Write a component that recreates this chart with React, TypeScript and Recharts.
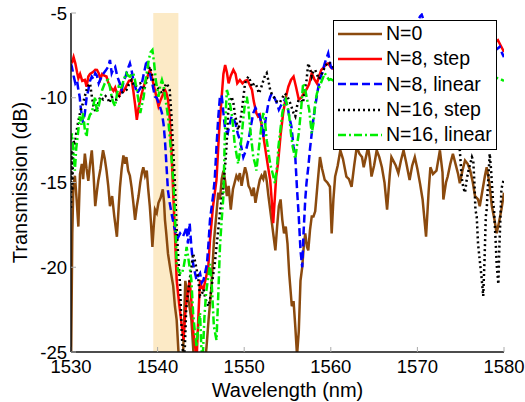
import React from 'react';
import { ComposedChart, Line, Area, XAxis, YAxis, Legend } from 'recharts';

// ---- data: [wavelength (nm), transmission (dB)] ----
const n0: number[][] = [
  [1530.0,-26],[1530.15,-18],[1530.27,-15.3],[1530.45,-14.6],[1530.65,-16.0],[1530.85,-17.6],[1531.04,-14.5],[1531.25,-13.9],[1531.4,-14.8],[1531.6,-13.3],[1531.8,-14.2],[1532.0,-14.9],[1532.2,-13.9],[1532.4,-13.1],[1532.6,-14.5],[1532.8,-16.4],[1533.0,-15.5],[1533.15,-14.9],[1533.4,-14.2],[1533.7,-13.1],[1533.9,-13.6],[1534.1,-14.3],[1534.3,-15.2],[1534.5,-16.4],[1534.75,-15.8],[1535.0,-17.0],[1535.3,-18.2],[1535.5,-16.5],[1535.65,-15.3],[1535.85,-14.2],[1536.05,-13.4],[1536.25,-13.9],[1536.4,-13.5],[1536.6,-14.3],[1536.8,-14.6],[1537.0,-15.3],[1537.2,-16.2],[1537.4,-17.2],[1537.6,-16.4],[1537.8,-15.8],[1538.0,-15.0],[1538.2,-14.4],[1538.35,-14.1],[1538.55,-14.6],[1538.75,-14.3],[1538.9,-15.3],[1539.1,-16.4],[1539.25,-17.5],[1539.4,-18.8],[1539.55,-17.6],[1539.7,-16.6],[1539.9,-16.8],[1540.1,-16.2],[1540.35,-15.9],[1540.6,-15.4],[1540.75,-16.2],[1540.85,-17.2],[1541.0,-18.0],[1541.2,-19.2],[1541.5,-20.2],[1541.8,-21.1],[1542.0,-22.3],[1542.2,-23.1],[1542.4,-24.9],[1542.6,-26],[1542.9,-26],[1543.1,-22.5],[1543.2,-20.8],[1543.45,-21.7],[1543.65,-22.2],[1543.9,-23.1],[1544.2,-25.5],[1544.5,-26],[1545.0,-26],[1545.4,-26],[1545.65,-24.7],[1545.9,-23.0],[1546.2,-21.3],[1546.5,-18.5],[1546.8,-16.8],[1547.0,-15.6],[1547.2,-16.0],[1547.4,-14.8],[1547.6,-14.3],[1547.8,-14.9],[1548.0,-15.8],[1548.2,-15.2],[1548.45,-16.6],[1548.7,-15.4],[1548.9,-15.0],[1549.1,-14.6],[1549.3,-14.8],[1549.5,-14.45],[1549.7,-15.2],[1549.9,-14.6],[1550.1,-14.1],[1550.3,-14.5],[1550.5,-15.2],[1550.7,-15.4],[1550.9,-15.8],[1551.1,-15.3],[1551.3,-16.2],[1551.5,-15.6],[1551.8,-14.85],[1552.0,-14.6],[1552.2,-14.8],[1552.4,-14.3],[1552.6,-14.9],[1552.8,-15.8],[1553.0,-16.6],[1553.2,-17.4],[1553.4,-18.2],[1553.6,-19.0],[1553.8,-17.6],[1554.0,-16.4],[1554.2,-16.0],[1554.4,-17.2],[1554.6,-18.0],[1554.8,-17.6],[1555.0,-18.6],[1555.2,-20.4],[1555.5,-22.3],[1555.7,-22.0],[1555.9,-23.5],[1556.1,-25.2],[1556.3,-23.8],[1556.5,-20.8],[1556.7,-20.0],[1556.9,-18.6],[1557.05,-18.0],[1557.25,-18.8],[1557.4,-19.0],[1557.6,-17.8],[1557.8,-17.0],[1558.0,-17.0],[1558.2,-16.7],[1558.45,-15.2],[1558.75,-13.5],[1559.0,-14.2],[1559.3,-14.85],[1559.6,-15.0],[1559.9,-15.25],[1560.1,-18.0],[1560.3,-16.0],[1560.5,-14.65],[1560.8,-14.0],[1561.1,-13.1],[1561.4,-13.6],[1561.8,-14.65],[1562.1,-14.8],[1562.4,-15.25],[1562.7,-14.0],[1563.0,-12.9],[1563.3,-13.3],[1563.6,-13.5],[1563.8,-14.1],[1564.1,-13.4],[1564.3,-12.9],[1564.5,-13.6],[1564.7,-14.65],[1565.0,-14.0],[1565.3,-13.1],[1565.6,-13.5],[1565.9,-14.1],[1566.2,-15.0],[1566.5,-16.6],[1566.8,-14.6],[1567.0,-13.5],[1567.3,-13.8],[1567.5,-14.0],[1567.8,-14.45],[1568.1,-13.7],[1568.4,-13.1],[1568.7,-13.8],[1569.1,-14.85],[1569.4,-14.0],[1569.7,-13.5],[1570.0,-14.2],[1570.3,-15.05],[1570.6,-16.0],[1571.0,-18.2],[1571.3,-15.5],[1571.5,-14.1],[1571.8,-14.5],[1572.2,-14.3],[1572.6,-13.1],[1572.9,-14.4],[1573.0,-16.0],[1573.3,-15.0],[1573.5,-14.65],[1573.8,-13.9],[1574.1,-13.3],[1574.4,-13.9],[1574.7,-14.5],[1574.9,-15.05],[1575.2,-14.3],[1575.5,-13.7],[1575.8,-13.9],[1576.1,-14.3],[1576.4,-15.0],[1576.65,-15.8],[1577.0,-16.0],[1577.2,-16.4],[1577.5,-15.5],[1577.8,-14.6],[1578.0,-14.1],[1578.3,-15.0],[1578.6,-16.4],[1578.9,-17.2],[1579.15,-18.0],[1579.4,-17.4],[1579.7,-16.6],[1580.0,-15.6]
];

const n8Step: number[][] = [
  [1530.0,-7.8],[1530.15,-7.87],[1530.3,-7.6],[1530.5,-7.97],[1530.7,-8.5],[1530.85,-8.85],[1531.05,-8.6],[1531.3,-9.0],[1531.6,-8.95],[1531.8,-9.35],[1532.0,-8.75],[1532.2,-8.6],[1532.5,-8.5],[1532.8,-8.35],[1533.0,-8.36],[1533.2,-8.55],[1533.4,-8.9],[1533.6,-8.6],[1533.85,-8.7],[1534.1,-8.75],[1534.3,-9.1],[1534.6,-9.4],[1534.9,-9.6],[1535.1,-9.4],[1535.3,-9.74],[1535.55,-9.9],[1535.8,-9.54],[1536.1,-9.6],[1536.4,-9.3],[1536.7,-9.0],[1537.0,-8.95],[1537.2,-9.6],[1537.4,-10.4],[1537.6,-11.3],[1537.8,-10.6],[1538.0,-10.1],[1538.25,-9.6],[1538.5,-9.15],[1538.8,-8.8],[1539.1,-8.36],[1539.3,-8.7],[1539.5,-9.15],[1539.8,-9.8],[1540.1,-10.5],[1540.3,-10.2],[1540.5,-9.95],[1540.85,-9.54],[1541.0,-9.7],[1541.2,-10.1],[1541.4,-11.2],[1541.6,-13.1],[1541.8,-15.6],[1542.0,-18.0],[1542.2,-20.75],[1542.5,-22.2],[1542.8,-23.5],[1543.0,-24.3],[1543.15,-23.0],[1543.35,-21.9],[1543.7,-20.75],[1543.9,-22.0],[1544.1,-23.7],[1544.3,-24.5],[1544.5,-25.5],[1544.7,-23.0],[1544.9,-20.75],[1545.1,-21.2],[1545.3,-21.3],[1545.5,-20.8],[1545.85,-20.0],[1546.05,-18.4],[1546.4,-16.4],[1546.8,-14.85],[1547.1,-12.0],[1547.4,-9.94],[1547.6,-8.6],[1547.8,-8.07],[1548.0,-8.5],[1548.2,-9.15],[1548.45,-8.7],[1548.75,-8.36],[1549.0,-8.6],[1549.2,-9.15],[1549.5,-8.95],[1549.8,-9.15],[1550.1,-9.0],[1550.35,-8.95],[1550.6,-9.2],[1550.9,-9.54],[1551.1,-10.2],[1551.4,-10.9],[1551.6,-11.1],[1551.8,-11.0],[1552.1,-11.9],[1552.4,-12.9],[1552.7,-13.9],[1553.0,-14.85],[1553.2,-16.2],[1553.35,-17.4],[1553.5,-16.2],[1553.7,-14.6],[1553.9,-13.9],[1554.2,-12.2],[1554.5,-10.9],[1554.8,-10.0],[1555.1,-9.35],[1555.4,-8.95],[1555.7,-8.75],[1556.0,-9.4],[1556.3,-10.1],[1556.6,-10.0],[1556.9,-9.7],[1557.2,-9.5],[1557.5,-9.2],[1557.8,-8.55],[1558.1,-8.9],[1558.4,-9.15],[1558.6,-8.8],[1558.9,-8.36],[1559.2,-8.2],[1559.5,-8.0],[1559.7,-7.97],[1560.0,-8.2],[1561.0,-8.5],[1562.0,-8.0],[1563.0,-8.8],[1564.0,-8.3],[1565.0,-7.8],[1566.0,-8.4],[1567.0,-8.0],[1568.0,-7.6],[1569.0,-8.2],[1570.0,-7.9],[1571.0,-8.4],[1572.0,-7.7],[1573.0,-8.1],[1574.0,-7.5],[1575.0,-8.0],[1576.0,-7.4],[1577.0,-7.8],[1578.0,-7.2],[1578.8,-6.8],[1579.3,-6.6],[1579.6,-6.9],[1579.9,-7.2],[1580.0,-7.3]
];

const n8Linear: number[][] = [
  [1530.0,-8.0],[1530.1,-8.17],[1530.3,-8.7],[1530.5,-9.15],[1530.7,-9.0],[1530.85,-9.54],[1531.0,-9.94],[1531.15,-10.7],[1531.4,-11.5],[1531.6,-10.9],[1531.8,-10.0],[1532.0,-9.54],[1532.2,-9.0],[1532.4,-8.75],[1532.6,-8.9],[1532.8,-8.55],[1533.0,-8.7],[1533.2,-9.15],[1533.4,-8.9],[1533.7,-8.6],[1534.0,-8.4],[1534.3,-8.17],[1534.5,-7.77],[1534.7,-8.55],[1534.9,-8.3],[1535.1,-8.17],[1535.35,-8.75],[1535.6,-9.1],[1535.85,-9.54],[1536.1,-9.0],[1536.3,-8.75],[1536.55,-8.3],[1536.8,-7.97],[1537.0,-8.4],[1537.2,-8.95],[1537.4,-9.3],[1537.6,-9.74],[1537.8,-9.6],[1538.1,-9.35],[1538.4,-8.6],[1538.75,-7.77],[1538.9,-8.1],[1539.1,-8.55],[1539.4,-9.2],[1539.7,-9.94],[1539.9,-10.0],[1540.2,-10.4],[1540.5,-10.9],[1540.7,-11.6],[1540.85,-12.5],[1541.0,-13.8],[1541.2,-15.5],[1541.4,-16.2],[1541.6,-16.8],[1542.0,-17.8],[1542.3,-18.3],[1542.6,-18.0],[1542.9,-18.2],[1543.1,-18.0],[1543.35,-17.6],[1543.5,-18.6],[1543.7,-17.4],[1543.9,-18.8],[1544.1,-19.8],[1544.3,-20.3],[1544.5,-20.75],[1544.7,-20.5],[1544.9,-20.35],[1545.1,-20.9],[1545.3,-20.75],[1545.5,-20.3],[1545.7,-19.8],[1545.85,-18.8],[1546.05,-17.2],[1546.4,-15.8],[1546.6,-14.8],[1546.8,-12.9],[1547.0,-11.2],[1547.2,-9.94],[1547.4,-9.84],[1547.6,-10.9],[1547.8,-11.9],[1548.1,-12.1],[1548.3,-11.6],[1548.55,-11.1],[1548.8,-11.3],[1549.0,-11.5],[1549.25,-12.1],[1549.5,-12.5],[1549.7,-13.0],[1549.9,-13.5],[1550.2,-13.1],[1550.5,-12.5],[1550.8,-11.6],[1551.05,-10.9],[1551.3,-10.6],[1551.5,-10.8],[1551.8,-11.1],[1552.0,-11.5],[1552.2,-12.3],[1552.5,-11.2],[1552.8,-10.3],[1553.0,-9.94],[1553.2,-9.74],[1553.5,-10.0],[1553.75,-10.3],[1554.0,-10.7],[1554.3,-10.4],[1554.7,-10.1],[1555.0,-10.5],[1555.2,-11.1],[1555.45,-11.7],[1555.7,-12.9],[1555.9,-13.5],[1556.1,-15.4],[1556.3,-17.0],[1556.5,-19.0],[1556.7,-20.0],[1556.85,-18.0],[1557.05,-16.0],[1557.2,-15.0],[1557.4,-14.1],[1557.6,-13.0],[1557.8,-12.1],[1558.0,-11.2],[1558.2,-10.5],[1558.5,-9.54],[1558.8,-8.8],[1559.0,-8.55],[1559.3,-7.97],[1559.7,-7.38],[1560.0,-8.17],[1561.0,-8.8],[1562.0,-8.2],[1563.0,-9.0],[1564.0,-8.5],[1565.0,-7.9],[1566.0,-8.6],[1567.0,-7.5],[1568.0,-7.0],[1569.0,-6.4],[1569.8,-5.8],[1570.3,-5.2],[1570.5,-5.1],[1570.7,-5.4],[1571.0,-6.5],[1572.0,-7.6],[1573.0,-8.2],[1574.0,-7.8],[1575.0,-8.4],[1576.0,-7.9],[1577.0,-7.5],[1578.0,-7.8],[1579.0,-7.2],[1579.5,-7.0],[1579.8,-7.4],[1580.0,-7.6]
];

const n16Step: number[][] = [
  [1530.0,-16.5],[1530.05,-13.1],[1530.15,-15.5],[1530.27,-12.5],[1530.45,-12.8],[1530.6,-12.1],[1530.8,-11.5],[1531.04,-10.9],[1531.2,-10.6],[1531.4,-10.3],[1531.6,-9.9],[1531.8,-9.54],[1532.0,-9.3],[1532.2,-9.15],[1532.4,-9.9],[1532.6,-10.5],[1532.8,-10.8],[1533.0,-10.7],[1533.2,-10.2],[1533.4,-9.94],[1533.7,-10.1],[1534.0,-9.9],[1534.2,-10.0],[1534.45,-10.3],[1534.7,-9.94],[1534.95,-10.1],[1535.3,-10.1],[1535.6,-9.9],[1535.85,-9.74],[1536.1,-9.6],[1536.4,-9.54],[1536.7,-9.2],[1537.0,-8.95],[1537.2,-9.2],[1537.4,-9.35],[1537.7,-9.2],[1538.0,-9.15],[1538.2,-9.3],[1538.4,-9.54],[1538.6,-9.3],[1538.75,-8.95],[1538.9,-8.5],[1539.1,-8.17],[1539.3,-8.5],[1539.5,-8.95],[1539.7,-9.2],[1539.9,-9.35],[1540.2,-9.5],[1540.5,-9.74],[1540.8,-9.4],[1541.0,-9.15],[1541.2,-9.3],[1541.4,-9.54],[1541.6,-11.1],[1541.8,-13.1],[1542.0,-15.05],[1542.2,-17.8],[1542.4,-19.5],[1542.6,-21.1],[1542.8,-24.1],[1543.0,-25.5],[1543.15,-24.7],[1543.3,-22.5],[1543.5,-21.6],[1543.7,-20.75],[1543.9,-20.0],[1544.1,-19.2],[1544.3,-19.6],[1544.5,-20.1],[1544.7,-20.75],[1544.9,-21.7],[1545.1,-21.6],[1545.3,-21.3],[1545.5,-21.8],[1545.7,-22.1],[1545.85,-22.3],[1546.05,-21.9],[1546.2,-21.3],[1546.4,-20.5],[1546.6,-19.8],[1546.8,-18.8],[1547.0,-17.8],[1547.2,-16.8],[1547.4,-16.0],[1547.6,-15.25],[1547.8,-14.0],[1547.95,-12.9],[1548.15,-10.9],[1548.35,-10.2],[1548.55,-9.94],[1548.75,-10.3],[1548.9,-10.9],[1549.1,-11.4],[1549.3,-11.9],[1549.5,-11.5],[1549.7,-10.9],[1549.9,-10.0],[1550.1,-9.15],[1550.3,-8.9],[1550.5,-8.75],[1550.7,-9.0],[1550.9,-9.35],[1551.1,-9.2],[1551.3,-9.15],[1551.5,-9.4],[1551.7,-9.74],[1551.9,-9.5],[1552.2,-9.0],[1552.4,-8.7],[1552.6,-8.55],[1552.8,-9.0],[1553.0,-9.54],[1553.2,-9.8],[1553.4,-9.94],[1553.7,-10.2],[1554.1,-10.3],[1554.4,-10.0],[1554.7,-9.74],[1555.0,-9.94],[1555.3,-10.3],[1555.5,-10.6],[1555.7,-10.9],[1555.9,-11.1],[1556.1,-10.5],[1556.3,-10.1],[1556.6,-10.2],[1556.8,-10.3],[1557.0,-9.5],[1557.2,-8.95],[1557.4,-7.97],[1557.6,-8.3],[1557.8,-8.75],[1558.0,-8.4],[1558.2,-8.36],[1558.4,-8.6],[1558.6,-8.9],[1558.8,-8.7],[1559.0,-8.55],[1559.3,-8.2],[1559.7,-7.9],[1560.0,-8.0],[1561.0,-8.6],[1562.0,-9.2],[1563.0,-8.4],[1564.0,-8.8],[1565.0,-9.4],[1566.0,-8.6],[1567.0,-8.2],[1568.0,-9.0],[1569.0,-8.5],[1570.0,-9.3],[1571.0,-8.9],[1572.0,-9.8],[1573.0,-10.5],[1574.0,-11.6],[1574.5,-12.4],[1574.9,-13.1],[1575.1,-14.65],[1575.3,-15.3],[1575.5,-15.6],[1575.7,-14.8],[1575.9,-14.3],[1576.1,-13.9],[1576.3,-13.5],[1576.45,-13.7],[1576.6,-15.2],[1576.7,-16.6],[1576.85,-17.0],[1577.0,-18.6],[1577.2,-19.6],[1577.4,-20.55],[1577.6,-21.7],[1577.75,-19.6],[1577.9,-17.0],[1578.0,-16.6],[1578.1,-15.6],[1578.2,-14.65],[1578.35,-13.3],[1578.5,-14.2],[1578.6,-15.05],[1578.75,-16.2],[1578.85,-16.6],[1578.95,-17.6],[1579.05,-18.6],[1579.15,-19.8],[1579.35,-21.0],[1579.45,-19.0],[1579.55,-17.6],[1579.7,-15.4],[1579.85,-15.05],[1580.0,-14.8]
];

const n16Linear: number[][] = [
  [1530.0,-12.5],[1530.1,-12.1],[1530.25,-12.9],[1530.45,-14.3],[1530.6,-13.0],[1530.85,-11.9],[1531.0,-11.1],[1531.2,-11.6],[1531.4,-10.9],[1531.6,-11.9],[1531.8,-12.3],[1532.0,-11.3],[1532.2,-11.0],[1532.4,-10.9],[1532.6,-10.4],[1532.8,-9.94],[1533.0,-10.9],[1533.2,-10.5],[1533.4,-10.0],[1533.6,-9.54],[1533.9,-9.15],[1534.1,-9.0],[1534.3,-8.95],[1534.5,-9.4],[1534.7,-9.94],[1534.9,-10.3],[1535.1,-10.5],[1535.3,-9.8],[1535.5,-9.35],[1535.7,-9.5],[1535.9,-9.3],[1536.1,-8.9],[1536.4,-8.55],[1536.6,-8.7],[1536.8,-8.75],[1537.0,-8.6],[1537.2,-8.55],[1537.4,-9.0],[1537.6,-9.54],[1537.8,-10.2],[1538.0,-10.9],[1538.2,-10.4],[1538.4,-9.94],[1538.6,-9.0],[1538.8,-8.36],[1539.0,-7.7],[1539.2,-7.3],[1539.4,-7.18],[1539.6,-7.97],[1539.8,-9.0],[1540.0,-9.6],[1540.1,-9.94],[1540.3,-9.3],[1540.5,-8.95],[1540.7,-9.3],[1540.85,-9.94],[1541.0,-10.4],[1541.2,-11.1],[1541.4,-12.3],[1541.6,-13.5],[1541.8,-14.85],[1542.0,-16.8],[1542.2,-19.8],[1542.4,-20.2],[1542.6,-20.35],[1542.8,-20.4],[1543.0,-20.0],[1543.2,-19.4],[1543.35,-18.8],[1543.5,-19.3],[1543.7,-20.0],[1543.9,-20.75],[1544.1,-22.7],[1544.3,-23.8],[1544.5,-24.7],[1544.7,-23.5],[1544.9,-22.7],[1545.05,-24.7],[1545.2,-25.5],[1545.4,-23.0],[1545.6,-21.5],[1545.8,-20.75],[1546.05,-19.8],[1546.25,-21.0],[1546.5,-23.5],[1546.8,-24.3],[1547.0,-21.7],[1547.2,-18.8],[1547.4,-17.2],[1547.6,-15.8],[1547.75,-12.5],[1547.9,-10.5],[1548.0,-9.54],[1548.2,-9.9],[1548.4,-10.5],[1548.6,-11.1],[1548.9,-12.7],[1549.1,-13.3],[1549.3,-13.9],[1549.5,-13.2],[1549.7,-12.3],[1549.9,-11.2],[1550.1,-10.3],[1550.3,-9.94],[1550.5,-10.6],[1550.7,-11.9],[1550.9,-12.8],[1551.05,-13.5],[1551.3,-14.0],[1551.4,-14.3],[1551.6,-13.4],[1551.8,-12.5],[1552.0,-11.6],[1552.2,-10.9],[1552.4,-11.4],[1552.6,-12.5],[1552.8,-13.2],[1553.0,-13.9],[1553.3,-14.5],[1553.55,-15.05],[1553.8,-14.0],[1553.95,-12.9],[1554.2,-11.8],[1554.4,-10.9],[1554.6,-10.4],[1554.8,-10.1],[1555.0,-10.5],[1555.2,-11.1],[1555.4,-12.1],[1555.6,-12.9],[1555.9,-13.6],[1556.1,-12.8],[1556.3,-12.1],[1556.6,-10.5],[1556.8,-9.15],[1557.0,-9.4],[1557.2,-9.94],[1557.5,-10.7],[1557.8,-12.1],[1558.0,-11.5],[1558.2,-10.3],[1558.4,-9.74],[1558.7,-9.35],[1559.0,-8.95],[1559.3,-8.55],[1559.6,-8.8],[1559.8,-8.95],[1560.0,-8.9],[1561.0,-9.2],[1562.0,-8.7],[1563.0,-9.4],[1564.0,-8.8],[1565.0,-9.6],[1566.0,-9.0],[1567.0,-8.6],[1568.0,-9.3],[1569.0,-8.9],[1570.0,-9.5],[1571.0,-9.0],[1572.0,-8.6],[1573.0,-9.2],[1574.0,-9.0],[1575.0,-8.7],[1576.0,-9.3],[1577.0,-8.9],[1578.0,-8.6],[1579.0,-8.8],[1579.6,-8.9],[1580.0,-9.0]
];

const xTicks = [1530, 1540, 1550, 1560, 1570, 1580];
const yTicks = [-25, -20, -15, -10, -5];
// shaded wavelength band [start, end] and its vertical extent [bottom, top]
const bandWl = [1539.5, 1542.4];
const bandDb = [-25, -5];

const FONT = '"Liberation Sans", Arial, Helvetica, sans-serif';

const toRows = (pairs: number[][]) => pairs.map(([wl, db]) => ({ wl, db }));
const bandRows = bandWl.map((wl) => ({ wl, top: bandDb[1] }));

const series = [
  { name: 'N=0', data: toRows(n0), color: '#8B4A0E', dash: undefined as string | undefined },
  { name: 'N=8, step', data: toRows(n8Step), color: '#FF0000', dash: undefined },
  { name: 'N=8, linear', data: toRows(n8Linear), color: '#0000FF', dash: '8 4' },
  { name: 'N=16, step', data: toRows(n16Step), color: '#000000', dash: '2 3' },
  { name: 'N=16, linear', data: toRows(n16Linear), color: '#00EE00', dash: '8 3 2 3' },
];

const LegendBox = () => (
  <div
    style={{
      boxSizing: 'border-box',
      width: 164,
      height: 130,
      border: '1.5px solid #000',
      background: '#fff',
      fontFamily: FONT,
      fontSize: 19.5,
      color: '#000',
    }}
  >
    {series.map((s) => (
      <div key={s.name} style={{ display: 'flex', alignItems: 'center', height: 25.3 }}>
        <svg width={52} height={10} style={{ flex: 'none' }}>
          <line x1={4} x2={48} y1={5} y2={5} stroke={s.color} strokeWidth={2.4} strokeDasharray={s.dash} />
        </svg>
        <span style={{ whiteSpace: 'nowrap', lineHeight: '25px' }}>{s.name}</span>
      </div>
    ))}
  </div>
);

export default function App() {
  const tickStyle = { fontSize: 18.5, fill: '#000', fontFamily: FONT };
  return (
    <div style={{ width: 525, height: 402, overflow: 'hidden' }}>
      <style>{'body{margin:0;overflow:hidden}'}</style>
      <ComposedChart width={525} height={402} margin={{ top: 13, right: 21, bottom: 0, left: 0 }}>
        <XAxis
          xAxisId="b"
          dataKey="wl"
          type="number"
          domain={[1530, 1580]}
          allowDataOverflow
          ticks={xTicks}
          orientation="bottom"
          height={50}
          tick={tickStyle}
          tickSize={-5}
          tickMargin={13}
          tickLine={{ stroke: '#aaa' }}
          axisLine={{ stroke: '#111', strokeWidth: 1.5 }}
          label={{ value: 'Wavelength (nm)', position: 'insideBottom', offset: 5, fontSize: 20, fill: '#000', fontFamily: FONT }}
        />
        <XAxis
          xAxisId="t"
          dataKey="wl"
          type="number"
          domain={[1530, 1580]}
          allowDataOverflow
          ticks={xTicks}
          orientation="top"
          height={0}
          tick={false}
          tickSize={-5}
          tickLine={{ stroke: '#aaa' }}
          axisLine={{ stroke: '#333', strokeWidth: 1.2 }}
        />
        <YAxis
          yAxisId="l"
          type="number"
          domain={[-25, -5]}
          allowDataOverflow
          ticks={yTicks}
          orientation="left"
          width={71}
          tick={tickStyle}
          tickSize={-5}
          tickMargin={9}
          tickLine={{ stroke: '#aaa' }}
          axisLine={{ stroke: '#111', strokeWidth: 1.5 }}
          label={{ value: 'Transmission (dB)', angle: -90, position: 'insideLeft', offset: 20, fontSize: 20, fill: '#000', fontFamily: FONT, style: { textAnchor: 'middle' } }}
        />
        <YAxis
          yAxisId="r"
          type="number"
          domain={[-25, -5]}
          allowDataOverflow
          ticks={yTicks}
          orientation="right"
          width={0}
          tick={false}
          tickSize={-5}
          tickLine={{ stroke: '#aaa' }}
          axisLine={{ stroke: '#111', strokeWidth: 1.5 }}
        />
        <Area
          xAxisId="b"
          yAxisId="l"
          data={bandRows}
          dataKey="top"
          baseValue={bandDb[0]}
          type="linear"
          stroke="none"
          fill="#FCEAC6"
          fillOpacity={1}
          dot={false}
          activeDot={false}
          legendType="none"
          isAnimationActive={false}
        />
        {series.map((s) => (
          <Line
            key={s.name}
            xAxisId="b"
            yAxisId="l"
            data={s.data}
            dataKey="db"
            name={s.name}
            type="linear"
            stroke={s.color}
            strokeWidth={2.5}
            strokeDasharray={s.dash}
            dot={false}
            activeDot={false}
            isAnimationActive={false}
          />
        ))}
        <Legend
          layout="vertical"
          align="center"
          verticalAlign="middle"
          content={() => <LegendBox />}
          wrapperStyle={{ left: 333, top: 20, width: 164, height: 130 }}
        />
      </ComposedChart>
    </div>
  );
}
